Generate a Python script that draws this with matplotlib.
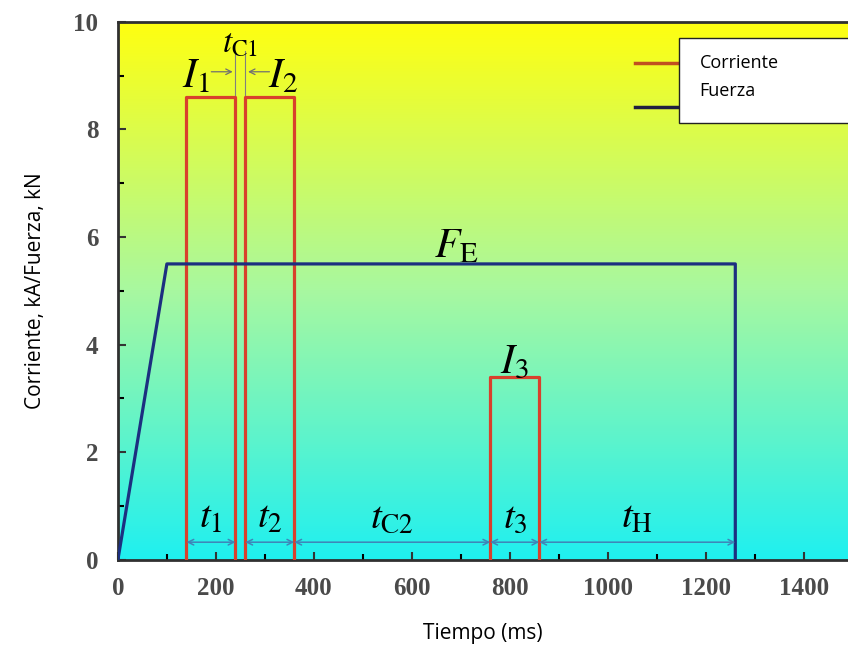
import numpy as np
import matplotlib.pyplot as plt
from matplotlib.colors import LinearSegmentedColormap
from matplotlib.lines import Line2D
from matplotlib.patches import Rectangle

plt.rcParams['mathtext.fontset'] = 'stix'

# Pulse data (ms, kA)
pulse_start = [140, 260, 760]
pulse_end = [240, 360, 860]
pulse_amp = [8.6, 8.6, 3.4]
pulse_names = [r'$I_1$', r'$I_2$', r'$I_3$']

# Electrode force (ms, kN)
force_t = [0, 100, 1260, 1260]
force_v = [0, 5.5, 5.5, 0]

# Time intervals along the bottom
span_start = [140, 260, 360, 760, 860]
span_end = [240, 360, 760, 860, 1260]
span_names = [r'$t_1$', r'$t_2$', r'$t_{\mathrm{C2}}$', r'$t_3$', r'$t_{\mathrm{H}}$']

red = '#d8402c'
navy = '#1c2f80'
arrow_c = '#3f84b8'

fig = plt.figure(figsize=(8.48, 6.58), dpi=100)
ax = fig.add_axes([0.139, 0.149, 0.861, 0.818])
xmax = 1490
ax.set_xlim(0, xmax)
ax.set_ylim(0, 10)

# yellow -> cyan background
cmap = LinearSegmentedColormap.from_list('yc', ['#1ff0f0', '#a8f8a0', '#ffff10'])
grad = np.linspace(0, 1, 256).reshape(-1, 1)
ax.imshow(grad, aspect='auto', cmap=cmap, origin='lower',
          extent=[0, xmax, 0, 10], zorder=0)

# current pulses
for s, e, a in zip(pulse_start, pulse_end, pulse_amp):
    ax.plot([s, s, e, e], [0, a, a, 0], color=red, lw=2.3, zorder=3)

# force
ax.plot(force_t, force_v, color=navy, lw=2.3, zorder=3)

# t_C1 gap markers
for x in [pulse_end[0], pulse_start[1]]:
    ax.plot([x, x], [0, 9.45], color='#808080', lw=0.8, zorder=2)
ax.annotate('', xy=(pulse_end[0], 9.07), xytext=(185, 9.07),
            arrowprops=dict(arrowstyle='->', color='#707070', lw=0.9))
ax.annotate('', xy=(pulse_start[1], 9.07), xytext=(315, 9.07),
            arrowprops=dict(arrowstyle='->', color='#707070', lw=0.9))

ax.text(160, 9.0, pulse_names[0], fontsize=30, ha='center', va='center')
ax.text(338, 9.0, pulse_names[1], fontsize=30, ha='center', va='center')
ax.text(250, 9.6, r'$t_{\mathrm{C1}}$', fontsize=24, ha='center', va='center')
ax.text(810, 3.7, pulse_names[2], fontsize=30, ha='center', va='center')
ax.text(690, 5.85, r'$F_{\mathrm{E}}$', fontsize=30, ha='center', va='center')

# bottom interval arrows
for s, e, n in zip(span_start, span_end, span_names):
    ax.annotate('', xy=(s, 0.33), xytext=(e, 0.33),
                arrowprops=dict(arrowstyle='<->', color=arrow_c, lw=1.1,
                                shrinkA=0, shrinkB=0))
    ax.text((s + e) / 2, 0.8, n, fontsize=28, ha='center', va='center')

# ticks
ax.set_xticks(np.arange(0, 1401, 200))
ax.set_xticks(np.arange(100, 1500, 200), minor=True)
ax.set_yticks(np.arange(0, 11, 2))
ax.set_yticks(np.arange(1, 10, 2), minor=True)
ax.tick_params(direction='in', length=6, width=1.5, labelsize=18, colors='#333333')
ax.tick_params(which='minor', direction='in', length=4, width=1.5)
ax.tick_params(axis='x', pad=12)
ax.tick_params(axis='y', pad=14)
for lab in ax.get_xticklabels() + ax.get_yticklabels():
    lab.set_family('Liberation Serif')
    lab.set_weight('bold')
    lab.set_color('#4a4a4a')
for sp in ['left', 'bottom', 'top']:
    ax.spines[sp].set_linewidth(2)
    ax.spines[sp].set_color('#303030')
ax.spines['right'].set_visible(False)

ax.set_xlabel('Tiempo (ms)', family='Open Sans', fontsize=15, labelpad=17)
ax.set_ylabel('Corriente, kA/Fuerza, kN', family='Open Sans', fontsize=15, labelpad=20)

# legend: original handles, pasted white box with labels
x0 = (635 - 118) / 730
x1 = (690 - 118) / 730
ax.add_line(Line2D([x0, x1], [(560 - 63) / 538] * 2, transform=ax.transAxes,
                   color='#c05020', lw=2.5, zorder=4))
ax.add_line(Line2D([x0, x1], [(560 - 107) / 538] * 2, transform=ax.transAxes,
                   color='#202040', lw=2.5, zorder=4))
bx = (679 - 118) / 730
by = (560 - 123) / 538
ax.add_patch(Rectangle((bx, by), 1 - bx + 0.01, 85 / 538, transform=ax.transAxes,
                       facecolor='white', edgecolor='#222222', lw=1, zorder=5,
                       clip_on=False))
ax.text(bx + 0.028, (560 - 63) / 538, 'Corriente', transform=ax.transAxes,
        family='Open Sans', fontsize=13, va='center', zorder=6)
ax.text(bx + 0.028, (560 - 91) / 538, 'Fuerza', transform=ax.transAxes,
        family='Open Sans', fontsize=13, va='center', zorder=6)

fig.savefig('out.png', dpi=100)
